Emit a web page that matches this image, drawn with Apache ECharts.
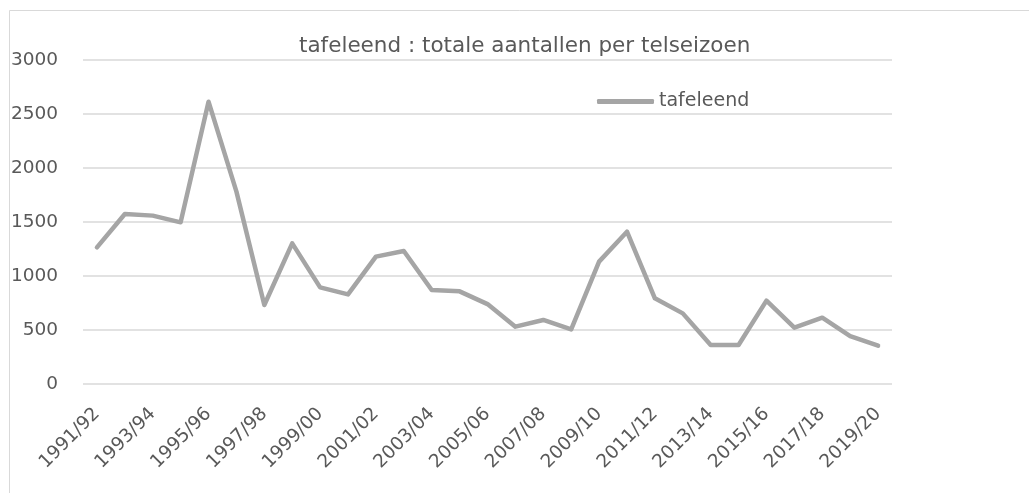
<!DOCTYPE html>
<html>
<head>
<meta charset="utf-8">
<script src="https://cdn.jsdelivr.net/npm/echarts@6/dist/echarts.min.js"></script>
<style>
html,body{margin:0;padding:0;background:#fff;}
#chart{width:1029px;height:493px;}
</style>
</head>
<body>
<div id="chart"></div>
<script>
var categories = ["1991/92","1992/93","1993/94","1994/95","1995/96","1996/97","1997/98","1998/99","1999/00","2000/01","2001/02","2002/03","2003/04","2004/05","2005/06","2006/07","2007/08","2008/09","2009/10","2010/11","2011/12","2012/13","2013/14","2014/15","2015/16","2016/17","2017/18","2018/19","2019/20"];
var tafeleend = [1265,1574,1559,1497,2614,1781,731,1302,895,830,1179,1231,870,858,740,531,593,506,1133,1410,793,654,361,361,772,522,614,444,355];
var seriesName = "tafeleend";
var titleText = "tafeleend : totale aantallen per telseizoen";

var chart = echarts.init(document.getElementById('chart'), null, {renderer:'canvas'});
var font = "'DejaVu Sans', sans-serif";
chart.setOption({
  backgroundColor: '#ffffff',
  animation: false,
  graphic: [{
    type: 'rect', left: 7, top: 8, silent: true,
    shape: {x: 0, y: 0, width: 1100, height: 600},
    style: {fill: 'none', stroke: '#d9d9d9', lineWidth: 1}
  }],
  title: {
    text: titleText, left: 294, top: 30,
    textStyle: {fontFamily: font, fontSize: 21.5, fontWeight: 'normal', color: '#595959'}
  },
  legend: {
    left: 592, top: 87, itemWidth: 57, itemHeight: 5, icon: 'roundRect',
    data: [seriesName],
    itemStyle: {color: '#a5a5a5'},
    textStyle: {fontFamily: font, fontSize: 19, color: '#595959'}
  },
  grid: {left: 83, right: 137, top: 60, bottom: 109},
  xAxis: {
    type: 'category', data: categories, boundaryGap: true,
    axisLine: {show: false}, axisTick: {show: false},
    axisLabel: {rotate: 45, interval: 1, margin: 27, fontFamily: font, fontSize: 18.5, color: '#595959'}
  },
  yAxis: {
    type: 'value', min: 0, max: 3000, interval: 500,
    axisLine: {show: false}, axisTick: {show: false},
    splitLine: {lineStyle: {color: '#d9d9d9', width: 1.5}},
    axisLabel: {margin: 25, fontFamily: font, fontSize: 18.5, color: '#595959', formatter: function (v) { return String(v); }}
  },
  series: [{
    name: seriesName, type: 'line', data: tafeleend, symbol: 'none',
    lineStyle: {color: '#a5a5a5', width: 4.5, cap: 'round', join: 'round'},
    itemStyle: {color: '#a5a5a5'}
  }]
});
</script>
</body>
</html>
